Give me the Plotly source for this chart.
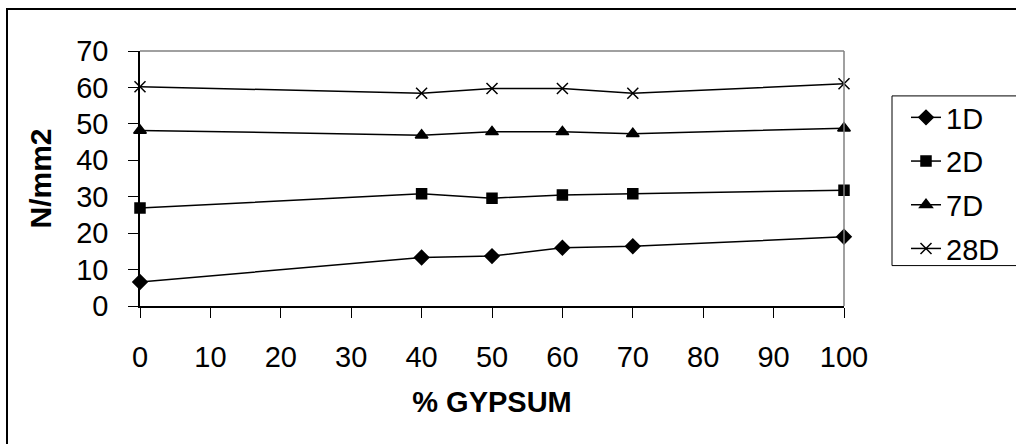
import plotly.graph_objects as go

gypsum = [0, 40, 50, 60, 70, 100]
d1 = [6.6, 13.3, 13.7, 16.0, 16.4, 19.0]
d2 = [26.9, 30.8, 29.6, 30.5, 30.8, 31.8]
d7 = [48.2, 46.9, 47.8, 47.8, 47.3, 48.8]
d28 = [60.2, 58.4, 59.7, 59.7, 58.4, 61.0]
series_names = ["1D", "2D", "7D", "28D"]
series_values = [d1, d2, d7, d28]
symbols = ["diamond", "square", "triangle-up", "x-thin"]
sizes = [11, 10, 11, 11]

x_ticks = list(range(0, 101, 10))
y_ticks = list(range(0, 71, 10))

FONT = "Liberation Sans, Arial, sans-serif"

fig = go.Figure()
for name, vals, sym, sz in zip(series_names, series_values, symbols, sizes):
    fig.add_trace(go.Scatter(
        x=gypsum, y=vals, name=name, legendgroup=name,
        mode="lines+markers",
        line=dict(color="black", width=1.5),
        marker=dict(symbol=sym, size=sz, color="black",
                    line=dict(color="black", width=1.5)),
        cliponaxis=False,
    ))

W, H = 1016, 444
L, R, T, B = 140, 1016 - 844, 51, 444 - 306.5
pw, ph = W - L - R, H - T - B


def px_x(p):
    return (p - L) / pw


def px_y(p):
    return (H - B - p) / ph


shapes = [
    # outer chart border
    dict(type="rect", xref="paper", yref="paper",
         x0=px_x(7), x1=px_x(1030), y0=px_y(460), y1=px_y(9),
         line=dict(color="black", width=2), fillcolor="rgba(0,0,0,0)", layer="below"),
    # gray plot area top/right
    dict(type="line", xref="paper", yref="paper", x0=0, x1=1, y0=1, y1=1,
         line=dict(color="#808080", width=1.5)),
    dict(type="line", xref="paper", yref="paper", x0=1, x1=1, y0=0, y1=1,
         line=dict(color="#808080", width=1.5)),
    # legend border
    dict(type="rect", xref="paper", yref="paper",
         x0=px_x(892), x1=px_x(1030), y0=px_y(266), y1=px_y(96),
         line=dict(color="black", width=1), fillcolor="rgba(0,0,0,0)"),
]

fig.update_layout(
    width=W, height=H,
    margin=dict(l=L, r=R, t=T, b=B, pad=0),
    paper_bgcolor="white", plot_bgcolor="white",
    font=dict(family=FONT, size=29, color="black"),
    showlegend=True,
    legend=dict(
        xref="container", yref="container",
        x=906 / W, y=1 - 92 / H, xanchor="left", yanchor="top",
        bgcolor="rgba(0,0,0,0)", borderwidth=0,
        font=dict(size=29),
        traceorder="grouped", tracegroupgap=3,
        itemwidth=30,
    ),
    shapes=shapes,
    xaxis=dict(
        range=[0, 100], tickvals=x_ticks, ticktext=[str(v) for v in x_ticks],
        showgrid=False, zeroline=False,
        showline=True, linecolor="black", linewidth=1.5,
        ticks="outside", ticklen=10, tickcolor="black", tickwidth=1,
        ticklabelstandoff=14,
        title=dict(text="<b>% GYPSUM</b>", font=dict(size=29), standoff=20),
    ),
    yaxis=dict(
        range=[0, 70], tickvals=y_ticks, ticktext=[str(v) for v in y_ticks],
        showgrid=False, zeroline=False,
        showline=True, linecolor="black", linewidth=1.5,
        ticks="outside", ticklen=10, tickcolor="black", tickwidth=1,
        ticklabelstandoff=14,
        title=dict(text="<b>N/mm2</b>", font=dict(size=30), standoff=16),
    ),
)

fig.write_html("out.html")
